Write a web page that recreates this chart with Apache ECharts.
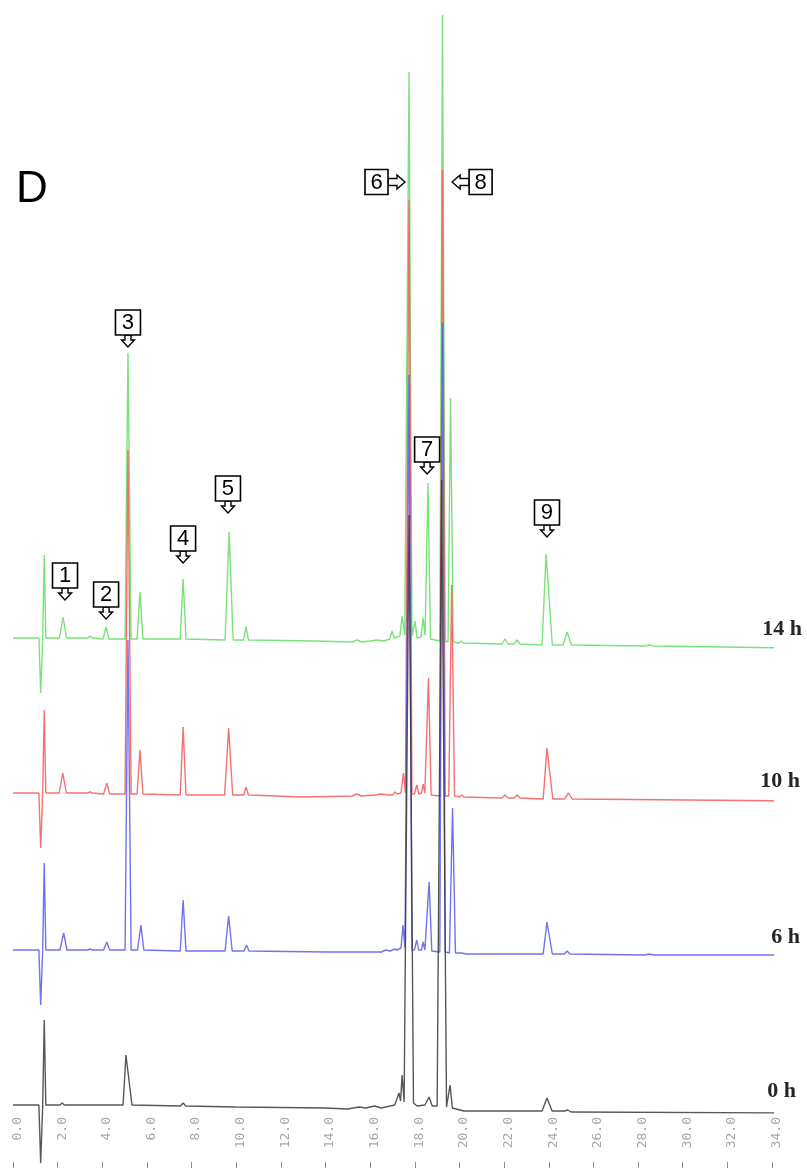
<!DOCTYPE html>
<html>
<head>
<meta charset="utf-8">
<script src="https://cdn.jsdelivr.net/npm/echarts@6/dist/echarts.min.js"></script>
<style>
html,body{margin:0;padding:0;background:#fff;}
#chart{width:807px;height:1170px;}
</style>
</head>
<body>
<div id="chart"></div>
<script>
// ---- data (retention time in min, detector signal in arbitrary units) ----
const xTickLabels = ['0.0','2.0','4.0','6.0','8.0','10.0','12.0','14.0','16.0','18.0','20.0','22.0','24.0','26.0','28.0','30.0','32.0','34.0'];
const traceNames = ['0 h', '6 h', '10 h', '14 h'];

const trace0h = [
  [0.00,0],[1.16,0],[1.24,-58],[1.33,0],[1.36,0],[1.40,85],[1.47,0],
  [2.10,0],[2.20,2],[2.30,0],
  [4.93,0],[5.06,50],[5.13,50],[5.33,0],
  [7.50,-1],[7.62,2],[7.74,-1],
  [10.0,-2],[14.0,-3],[15.0,-4],[15.5,-2],[15.8,-3],[16.2,-1],[16.5,-3],[16.9,-1],[17.1,0],
  [17.29,12],[17.36,4],[17.43,30],[17.52,3],
  [17.74,590],[17.94,2],[18.1,-1],[18.45,0],[18.64,8],[18.78,-1],[19.0,-1],
  [19.2,625],[19.42,-2],[19.5,-2],[19.58,20],[19.68,-3],
  [20.2,-6],[23.7,-6],[23.92,7],[24.15,-6],[24.7,-6],[24.85,-5],[25.0,-7],
  [35.1,-8]
];
const trace6h = [
  [0.00,0],[1.16,0],[1.24,-55],[1.33,0],[1.36,0],[1.40,87],[1.47,0],
  [2.10,0],[2.27,17],[2.42,0],
  [3.35,0],[3.45,1],[3.55,0],
  [4.06,0],[4.20,8],[4.33,0],
  [5.02,0],[5.15,310],[5.29,0],
  [5.58,0],[5.73,25],[5.86,0],
  [7.49,-1],[7.62,50],[7.75,-1],
  [9.50,-1],[9.66,34],[9.82,-1],
  [10.35,-1],[10.46,5],[10.57,-1],
  [14.0,-2],[16.5,-2],[16.7,0],[16.9,-1],[17.1,1],[17.2,0],[17.38,2],[17.47,25],[17.56,2],[17.62,2],
  [17.74,575],[17.87,0],[17.98,0],[18.09,10],[18.17,0],[18.30,0],[18.37,8],[18.45,0],
  [18.64,68],[18.76,-1],[19.12,-2],
  [19.24,627],[19.36,-2],[19.55,-3],[19.69,142],[19.82,-3],
  [20.1,-3],[20.3,-4],
  [23.75,-4],[23.92,28],[23.98,28],[24.16,-4],
  [24.7,-4],[24.82,-1],[24.95,-4],
  [28.3,-5],[28.5,-4],[28.7,-5],
  [35.0,-5]
];
const trace10h = [
  [0.00,0],[1.16,0],[1.24,-55],[1.33,0],[1.36,0],[1.40,83],[1.47,0],
  [2.07,0],[2.23,20],[2.39,0],
  [3.35,0],[3.45,1],[3.55,0],
  [4.06,-1],[4.20,10],[4.33,-1],
  [5.02,-1],[5.15,343],[5.29,-1],
  [5.56,-1],[5.69,43],[5.82,-1],
  [7.49,-2],[7.62,66],[7.75,-2],
  [9.48,-2],[9.66,65],[9.84,-2],
  [10.33,-2],[10.44,6],[10.55,-2],
  [13.0,-4],[15.2,-3],[15.4,-1],[15.6,-3],[16.2,-2],[16.5,-1],[16.8,-2],
  [17.0,-2],[17.11,1],[17.22,-1],[17.38,0],[17.49,20],[17.58,0],[17.62,0],
  [17.74,593],[17.87,-1],[17.98,-1],[18.09,8],[18.18,-1],[18.30,0],[18.37,9],[18.45,0],
  [18.61,115],[18.73,-2],[19.12,-3],
  [19.24,623],[19.36,-3],[19.52,-3],[19.65,208],[19.78,-3],
  [20.0,-4],[20.10,-2],[20.2,-4],
  [21.9,-5],[22.04,-2],[22.18,-5],[22.45,-5],[22.58,-2],[22.72,-5],
  [23.75,-6],[23.92,45],[23.98,45],[24.18,-6],
  [24.7,-6],[24.88,0],[25.05,-6],
  [35.3,-8]
];
const trace14h = [
  [0.00,0],[1.16,0],[1.24,-55],[1.33,0],[1.36,0],[1.40,83],[1.47,0],
  [2.08,0],[2.24,21],[2.40,0],
  [3.35,0],[3.45,2],[3.55,0],
  [4.03,-1],[4.17,11],[4.30,-1],
  [5.02,-1],[5.15,285],[5.29,-1],
  [5.56,-1],[5.69,46],[5.82,-1],
  [7.49,-1],[7.62,59],[7.75,-1],
  [9.50,-2],[9.68,106],[9.86,-2],
  [10.33,-2],[10.44,11],[10.55,-2],
  [13.5,-3],[15.2,-4],[15.4,-2],[15.6,-4],[16.0,-3],[16.3,-2],[16.6,-3],[16.88,-1],
  [16.98,7],[17.08,0],[17.33,2],[17.43,22],[17.55,3],[17.62,3],
  [17.74,566],[17.87,2],[17.94,2],[18.01,17],[18.10,0],[18.28,1],[18.37,20],[18.46,3],
  [18.59,155],[18.70,-1],[19.12,-3],
  [19.24,623],[19.36,-3],[19.49,-4],[19.60,240],[19.72,-4],
  [19.98,-5],[20.07,-3],[20.17,-5],
  [21.90,-6],[22.04,-1],[22.18,-6],[22.45,-6],[22.58,-2],[22.72,-6],
  [23.70,-7],[23.88,84],[23.96,84],[24.16,-7],
  [24.64,-7],[24.82,6],[25.02,-7],
  [28.30,-8],[28.50,-7],[28.70,-8],
  [35.00,-10]
];

// peak annotation labels and where their arrows point (time, plotted level)
const peakLabels    = ['1','2','3','4','5','6','7','8','9'];
const peakMarkTime  = [2.33, 4.17, 5.15, 7.62, 9.63, 17.56, 18.55, 19.67, 23.92];
const peakMarkLevel = [505, 486, 758, 542, 592, 923, 631, 923, 568];
const peakMarkSide  = ['down','down','down','down','down','right','down','left','down'];

// ---- chart ----
const traces = [trace14h, trace10h, trace6h, trace0h];
const traceOffsets = [467, 312, 155, 0];
const traceColors = ['#62de62', '#f45858', '#5858ee', '#3a3a3a'];

const chart = echarts.init(document.getElementById('chart'), null, {renderer: 'canvas'});

const series = traces.map((tr, i) => ({
  type: 'line',
  xAxisIndex: 0, yAxisIndex: 0,
  data: tr.map(p => [p[0], p[1] + traceOffsets[i]]),
  showSymbol: false,
  symbol: 'none',
  clip: false,
  silent: true,
  animation: false,
  lineStyle: {width: 1.4, color: traceColors[i], opacity: 0.85},
  z: 2 + i
}));

chart.setOption({
  animation: false,
  grid: [
    {left: 13, right: 35, top: 0, bottom: 8},
    {left: 17.5, right: 30.5, top: 0, bottom: 8}
  ],
  xAxis: [
    {
      type: 'value', gridIndex: 0, min: 0, max: 34, interval: 2,
      axisLine: {show: false, onZero: false},
      splitLine: {show: false},
      axisTick: {show: true, inside: false, length: 6, lineStyle: {color: '#8c8c8c', width: 1}},
      axisLabel: {show: false}
    },
    {
      type: 'value', gridIndex: 1, min: 0, max: 34, interval: 2,
      axisLine: {show: false, onZero: false},
      splitLine: {show: false},
      axisTick: {show: false},
      axisLabel: {
        inside: true, rotate: 90, margin: 45, align: 'right',
        fontFamily: 'DejaVu Sans Mono', fontSize: 13, color: '#a8a8a8',
        formatter: v => xTickLabels[Math.round(v / 2)]
      }
    }
  ],
  yAxis: [
    {type: 'value', gridIndex: 0, min: -57, max: 1105, show: false, splitLine: {show: false}},
    {type: 'value', gridIndex: 1, min: 0, max: 1, show: false, splitLine: {show: false}}
  ],
  series: series
});

// annotations positioned through the chart's own scales
const g = [];
g.push({type: 'text', left: 16, top: 168, style: {text: 'D', font: '44px "Liberation Sans", Arial, sans-serif', fill: '#000'}});

const labelPos = [[802, 629], [800, 781], [800, 937], [796, 1091]];
const labelText = ['14 h', '10 h', '6 h', '0 h'];
labelText.forEach((t, i) => {
  g.push({type: 'text', x: labelPos[i][0], y: labelPos[i][1], silent: true,
    style: {text: t, font: 'bold 22px "Liberation Serif", "Times New Roman", serif', fill: '#262626', align: 'right', verticalAlign: 'middle'}});
});

const numFont = '22px "Liberation Sans", Arial, sans-serif';
peakLabels.forEach((lab, i) => {
  const p = chart.convertToPixel({xAxisIndex: 0, yAxisIndex: 0}, [peakMarkTime[i], peakMarkLevel[i]]);
  const x = p[0], y = p[1];
  const side = peakMarkSide[i];
  const stroke = {fill: '#fff', stroke: '#000', lineWidth: 1.4};
  if (side === 'down') {
    g.push({type: 'polygon', silent: true, z: 10, shape: {points: [[x-3,y-12],[x+3,y-12],[x+3,y-7],[x+6.5,y-7],[x,y],[x-6.5,y-7],[x-3,y-7]]}, style: stroke});
    g.push({type: 'rect', silent: true, z: 11, shape: {x: x-12.5, y: y-37, width: 25, height: 25}, style: Object.assign({}, stroke, {lineWidth: 1.6})});
    g.push({type: 'text', silent: true, z: 12, x: x, y: y-24, style: {text: lab, font: numFont, fill: '#000', align: 'center', verticalAlign: 'middle'}});
  } else {
    const d = side === 'right' ? -1 : 1; // direction from tip towards box
    g.push({type: 'polygon', silent: true, z: 10, shape: {points: [[x+d*17,y-3.5],[x+d*8,y-3.5],[x+d*8,y-7],[x,y],[x+d*8,y+7],[x+d*8,y+3.5],[x+d*17,y+3.5]]}, style: stroke});
    const bx = side === 'right' ? x-17-23 : x+17;
    g.push({type: 'rect', silent: true, z: 11, shape: {x: bx, y: y-12.5, width: 23, height: 25}, style: Object.assign({}, stroke, {lineWidth: 1.6})});
    g.push({type: 'text', silent: true, z: 12, x: bx+11.5, y: y+0.5, style: {text: lab, font: numFont, fill: '#000', align: 'center', verticalAlign: 'middle'}});
  }
});
chart.setOption({graphic: {elements: g}});
</script>
</body>
</html>
